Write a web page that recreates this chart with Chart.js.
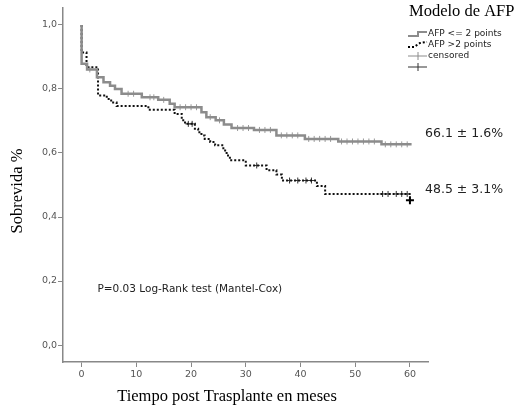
<!DOCTYPE html>
<html>
<head>
<meta charset="utf-8">
<script src="https://cdn.jsdelivr.net/npm/chart.js@4/dist/chart.umd.min.js"></script>
<style>
  html, body { margin: 0; padding: 0; background: #fff; }
  canvas { display: block; }
</style>
</head>
<body>
<canvas id="km" width="523" height="412"></canvas>
<script>
// Kaplan-Meier: sobrevida por modelo de AFP
const tiempoBajo = [0, 0, 1.0, 2.8, 4.0, 5.2, 6.1, 7.3, 11, 14, 16.1, 17, 21.9, 22.8, 24.5, 26, 27.4, 31.5, 35.6, 40.8, 46.9, 54.8, 60.3];
const sobrevidaBajo = [1.0, 0.879, 0.861, 0.837, 0.821, 0.81, 0.80, 0.785, 0.774, 0.766, 0.754, 0.743, 0.727, 0.712, 0.702, 0.689, 0.678, 0.672, 0.655, 0.644, 0.636, 0.627, 0.627];

const tiempoAlto = [0, 0, 0.9, 3.0, 4.6, 5.4, 6.4, 12.2, 17, 18.3, 18.9, 20.7, 21.3, 21.9, 22.5, 23.5, 24.4, 25.9, 26.5, 27.1, 30.0, 33.8, 35.6, 36.6, 43, 44.5, 60.3];
const sobrevidaAlto = [1.0, 0.914, 0.868, 0.78, 0.769, 0.758, 0.747, 0.735, 0.722, 0.702, 0.691, 0.676, 0.665, 0.655, 0.644, 0.634, 0.624, 0.608, 0.592, 0.577, 0.561, 0.546, 0.533, 0.514, 0.497, 0.472, 0.472];

// tiempos censurados
const censuradosBajo = [1.5, 8.5, 9.5, 12.5, 13.2, 15, 18, 19, 20, 21, 23.5, 25.2, 28.5, 29.5, 30.5, 32.5, 33.5, 34.5, 36.5, 37.5, 38.5, 39.5, 41.5, 42.5, 43.5, 44.5, 45.5, 47.5, 48.5, 49.5, 50.5, 51.5, 52.5, 53.5, 55.5, 56.5, 57.5, 58.5, 59.5];
const censuradosAlto = [19.5, 20.2, 32, 38, 39.5, 41, 42, 55, 56, 57.5, 58.5, 59.5];
const censuradoFinalT = [60];
const censuradoFinalS = [0.452];

const ticksX = [0, 10, 20, 30, 40, 50, 60];
const ticksY = [0, 0.2, 0.4, 0.6, 0.8, 1.0];

const etiquetaBajo = { texto: '66.1 \u00b1 1.6%', valor: 0.661 };
const etiquetaAlto = { texto: '48.5 \u00b1 3.1%', valor: 0.485 };

function escalon(ts, ss, t) {
  let v = ss[0];
  for (let i = 0; i < ts.length; i++) {
    if (ts[i] <= t) v = ss[i];
  }
  return v;
}

const serieBajo = tiempoBajo.map((t, i) => ({ x: t, y: sobrevidaBajo[i] }));
const serieAlto = tiempoAlto.map((t, i) => ({ x: t, y: sobrevidaAlto[i] }));
const marcasBajo = censuradosBajo.map(t => ({ x: t, y: escalon(tiempoBajo, sobrevidaBajo, t) }));
const marcasAlto = censuradosAlto.map(t => ({ x: t, y: escalon(tiempoAlto, sobrevidaAlto, t) }));
const marcaFinal = censuradoFinalT.map((t, i) => ({ x: t, y: censuradoFinalS[i] }));

const GRIS = '#8c8c8c';
const SANS = 'DejaVu Sans';
const SERIF = 'Liberation Serif';

const extras = {
  id: 'extras',
  afterDraw(chart) {
    const ctx = chart.ctx;
    const xs = chart.scales.x, ys = chart.scales.y;
    ctx.save();

    // titulos de ejes
    ctx.fillStyle = '#000';
    ctx.font = '16.5px "' + SERIF + '"';
    ctx.textAlign = 'center';
    ctx.textBaseline = 'middle';
    ctx.fillText('Tiempo post Trasplante en meses', 227, 397);
    ctx.save();
    ctx.translate(18, 191);
    ctx.rotate(-Math.PI / 2);
    ctx.fillText('Sobrevida %', 0, 0);
    ctx.restore();

    // porcentajes a la derecha
    ctx.fillStyle = '#222';
    ctx.font = '12.5px "' + SANS + '"';
    ctx.textAlign = 'left';
    ctx.fillText(etiquetaBajo.texto, 425, ys.getPixelForValue(etiquetaBajo.valor));
    ctx.fillText(etiquetaAlto.texto, 425, ys.getPixelForValue(etiquetaAlto.valor));

    // prueba log-rank
    ctx.font = '10.5px "' + SANS + '"';
    ctx.fillText('P=0.03 Log-Rank test (Mantel-Cox)', xs.getPixelForValue(2.9), ys.getPixelForValue(0.175));

    // leyenda
    ctx.fillStyle = '#000';
    ctx.font = '16.5px "' + SERIF + '"';
    ctx.fillText('Modelo de AFP', 409, 12);

    ctx.font = '9px "' + SANS + '"';
    ctx.fillStyle = '#222';
    const lx = 408, tx = 428;

    // icono escalon gris
    ctx.strokeStyle = GRIS;
    ctx.lineWidth = 2;
    ctx.setLineDash([]);
    ctx.beginPath();
    ctx.moveTo(lx, 36); ctx.lineTo(lx + 10, 36); ctx.lineTo(lx + 10, 32); ctx.lineTo(tx - 1, 32);
    ctx.stroke();
    ctx.fillText('AFP <= 2 points', tx, 34);

    // icono punteado
    ctx.strokeStyle = '#000';
    ctx.setLineDash([2, 2]);
    ctx.beginPath();
    ctx.moveTo(lx, 47); ctx.lineTo(lx + 6, 47); ctx.lineTo(lx + 12, 43); ctx.lineTo(tx - 1, 42);
    ctx.stroke();
    ctx.setLineDash([]);
    ctx.fillText('AFP >2 points', tx, 45);

    // cruces de censura
    ctx.lineWidth = 1;
    ctx.strokeStyle = GRIS;
    ctx.beginPath();
    ctx.moveTo(lx, 56); ctx.lineTo(tx - 1, 56);
    ctx.moveTo(lx + 10, 52); ctx.lineTo(lx + 10, 60);
    ctx.stroke();
    ctx.fillText('censored', tx, 56);

    ctx.strokeStyle = '#333';
    ctx.beginPath();
    ctx.moveTo(lx, 67); ctx.lineTo(tx - 1, 67);
    ctx.moveTo(lx + 10, 63); ctx.lineTo(lx + 10, 71);
    ctx.stroke();

    ctx.restore();
  }
};

new Chart(document.getElementById('km'), {
  type: 'line',
  data: {
    datasets: [
      {
        label: 'AFP <= 2 points',
        data: serieBajo,
        borderColor: GRIS,
        borderWidth: 2.5,
        stepped: 'before',
        pointRadius: 0,
        fill: false
      },
      {
        label: 'AFP >2 points',
        data: serieAlto,
        borderColor: '#111',
        borderWidth: 2,
        borderDash: [2, 2],
        stepped: 'before',
        pointRadius: 0,
        fill: false
      },
      {
        label: 'censored',
        data: marcasBajo,
        showLine: false,
        pointStyle: 'cross',
        pointRadius: 3,
        pointBorderWidth: 1,
        pointBorderColor: '#9a9a9a'
      },
      {
        label: 'censored alto',
        data: marcasAlto,
        showLine: false,
        pointStyle: 'cross',
        pointRadius: 3,
        pointBorderWidth: 1,
        pointBorderColor: '#333'
      },
      {
        label: 'censored final',
        data: marcaFinal,
        showLine: false,
        pointStyle: 'cross',
        pointRadius: 4,
        pointBorderWidth: 2,
        pointBorderColor: '#000'
      }
    ]
  },
  options: {
    responsive: false,
    animation: false,
    events: [],
    layout: { padding: { top: 8, right: 95, left: 0, bottom: 0 } },
    plugins: { legend: { display: false }, tooltip: { enabled: false } },
    scales: {
      x: {
        type: 'linear',
        min: -3.4,
        max: 63.3,
        afterBuildTicks: s => { s.ticks = ticksX.map(v => ({ value: v })); },
        afterFit: s => { s.height = 50; },
        grid: { drawOnChartArea: false, drawTicks: true, tickLength: 5, color: '#888' },
        border: { color: '#888', width: 1.5 },
        ticks: { color: '#555', font: { family: SANS, size: 9.5 }, padding: 2, maxRotation: 0 }
      },
      y: {
        type: 'linear',
        min: -0.053,
        max: 1.053,
        afterBuildTicks: s => { s.ticks = ticksY.map(v => ({ value: v })); },
        afterFit: s => { s.width = 63; },
        grid: { drawOnChartArea: false, drawTicks: true, tickLength: 5, color: '#888' },
        border: { color: '#888', width: 1.5 },
        ticks: {
          color: '#555',
          font: { family: SANS, size: 9.5 },
          padding: 1,
          callback: v => v.toFixed(1).replace('.', ',')
        }
      }
    }
  },
  plugins: [extras]
});
</script>
</body>
</html>
